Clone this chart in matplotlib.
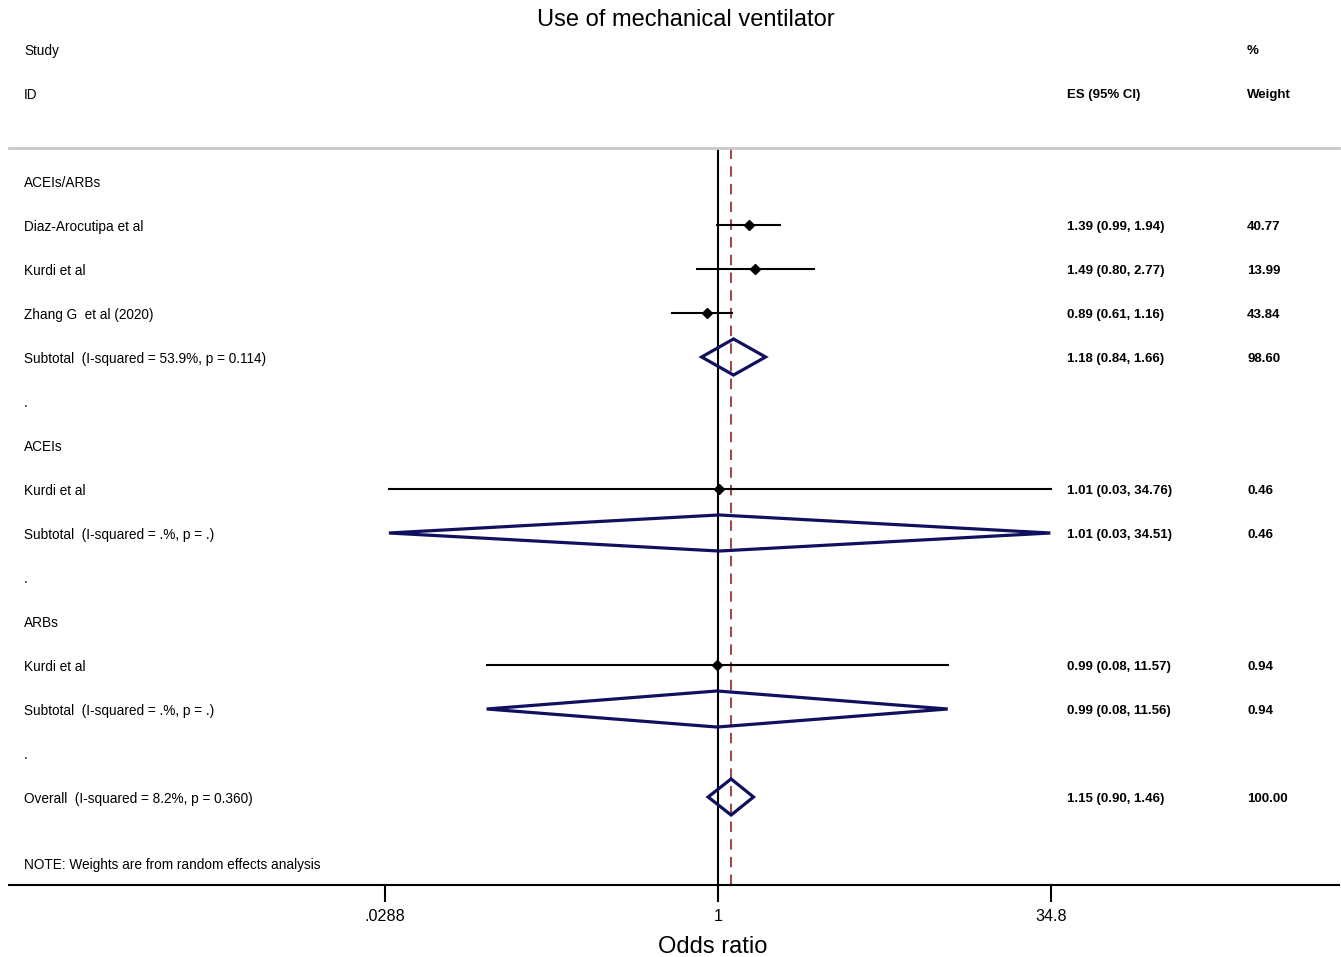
import matplotlib.pyplot as plt
from matplotlib.patches import Polygon
import matplotlib.transforms as mtransforms

plt.rcParams['font.family'] = ['Liberation Sans', 'DejaVu Sans']

# rows of the forest plot (top to bottom)
labels = ["ACEIs/ARBs", "Diaz-Arocutipa et al", "Kurdi et al", "Zhang G  et al (2020)",
          "Subtotal  (I-squared = 53.9%, p = 0.114)", ".",
          "ACEIs", "Kurdi et al", "Subtotal  (I-squared = .%, p = .)", ".",
          "ARBs", "Kurdi et al", "Subtotal  (I-squared = .%, p = .)", ".",
          "Overall  (I-squared = 8.2%, p = 0.360)"]
# kind: h = heading, s = study, d = pooled diamond, b = blank
kinds = ["h", "s", "s", "s", "d", "b", "h", "s", "d", "b", "h", "s", "d", "b", "d"]
es = [None, 1.39, 1.49, 0.89, 1.18, None, None, 1.01, 1.01, None, None, 0.99, 0.99, None, 1.15]
lo = [None, 0.99, 0.80, 0.61, 0.84, None, None, 0.03, 0.03, None, None, 0.085, 0.085, None, 0.90]
hi = [None, 1.94, 2.77, 1.16, 1.66, None, None, 34.76, 34.51, None, None, 11.57, 11.56, None, 1.46]
es_text = ["", "1.39 (0.99, 1.94)", "1.49 (0.80, 2.77)", "0.89 (0.61, 1.16)", "1.18 (0.84, 1.66)", "",
           "", "1.01 (0.03, 34.76)", "1.01 (0.03, 34.51)", "",
           "", "0.99 (0.08, 11.57)", "0.99 (0.08, 11.56)", "", "1.15 (0.90, 1.46)"]
weights = ["", "40.77", "13.99", "43.84", "98.60", "", "", "0.46", "0.46", "", "", "0.94", "0.94", "", "100.00"]
overall_es = 1.15
tick_vals = [0.0288, 1, 34.8]
tick_labels = [".0288", "1", "34.8"]

W, H = 1341, 957
fig = plt.figure(figsize=(W / 100, H / 100), dpi=100)
ax = fig.add_axes([9 / W, (H - 885) / H, 1330 / W, (885 - 148) / H])

ppd = 216.08  # pixels per decade
ax.set_xscale("log")
ax.set_xlim(10 ** ((9 - 718) / ppd), 10 ** ((1339 - 718) / ppd))
ax.set_ylim(16.0, -0.75)

tr = mtransforms.blended_transform_factory(ax.transAxes, ax.transData)
x_lab, x_es, x_w = 15 / 1330, 1058 / 1330, 1238 / 1330
fs = 9.8
dy = 0.045  # small nudge so text centres sit on the row lines

for i, lab in enumerate(labels):
    ax.text(x_lab, i + dy, lab, transform=tr, fontsize=fs, va="center", ha="left")
    ax.text(x_es, i + dy, es_text[i], transform=tr, fontsize=9.5, fontweight="bold",
            va="center", ha="left")
    ax.text(x_w, i + dy, weights[i], transform=tr, fontsize=9.5, fontweight="bold",
            va="center", ha="left")
    if kinds[i] == "s":
        ax.plot([lo[i], hi[i]], [i, i], color="black", lw=1.5, zorder=3)
        ax.plot(es[i], i, marker="D", color="black", ms=5.5, zorder=4)
    elif kinds[i] == "d":
        h = 0.41
        poly = Polygon([(lo[i], i), (es[i], i - h), (hi[i], i), (es[i], i + h)],
                       closed=True, fill=False, edgecolor="#10105f", lw=2.3, zorder=4)
        ax.add_patch(poly)

ax.text(x_lab, 15.5 + dy, "NOTE: Weights are from random effects analysis", transform=tr,
        fontsize=fs, va="center", ha="left")

# header
ax.text(x_lab, -3 + dy, "Study", transform=tr, fontsize=fs, va="center", ha="left", clip_on=False)
ax.text(x_lab, -2 + dy, "ID", transform=tr, fontsize=fs, va="center", ha="left", clip_on=False)
for txt, x, y in [("ES (95% CI)", x_es, -2), ("%", x_w, -3), ("Weight", x_w, -2)]:
    ax.text(x, y + dy, txt, transform=tr, fontsize=9.5, fontweight="bold",
            va="center", ha="left", clip_on=False)

ax.axvline(1, color="black", lw=1.5, zorder=2)
ax.axvline(overall_es, color="#a04a4a", lw=1.5, ls=(0, (5, 3.5)), zorder=2)

for s in ["left", "right"]:
    ax.spines[s].set_visible(False)
ax.spines["top"].set_color("#c8c8c8")
ax.spines["top"].set_linewidth(2)
ax.spines["bottom"].set_linewidth(1.5)

ax.set_yticks([])
ax.set_xticks(tick_vals)
ax.set_xticklabels(tick_labels, fontsize=11.6)
ax.minorticks_off()
ax.tick_params(axis="x", direction="out", length=12, width=1.5, pad=5)
ax.set_xlabel("Odds ratio", fontsize=17, labelpad=6)
ax.xaxis.set_label_coords((713 - 9) / 1330, -0.069)

fig.text(686 / W, 1 - 20 / H, "Use of mechanical ventilator", fontsize=17, ha="center", va="center")

fig.savefig("out.png", dpi=100)
